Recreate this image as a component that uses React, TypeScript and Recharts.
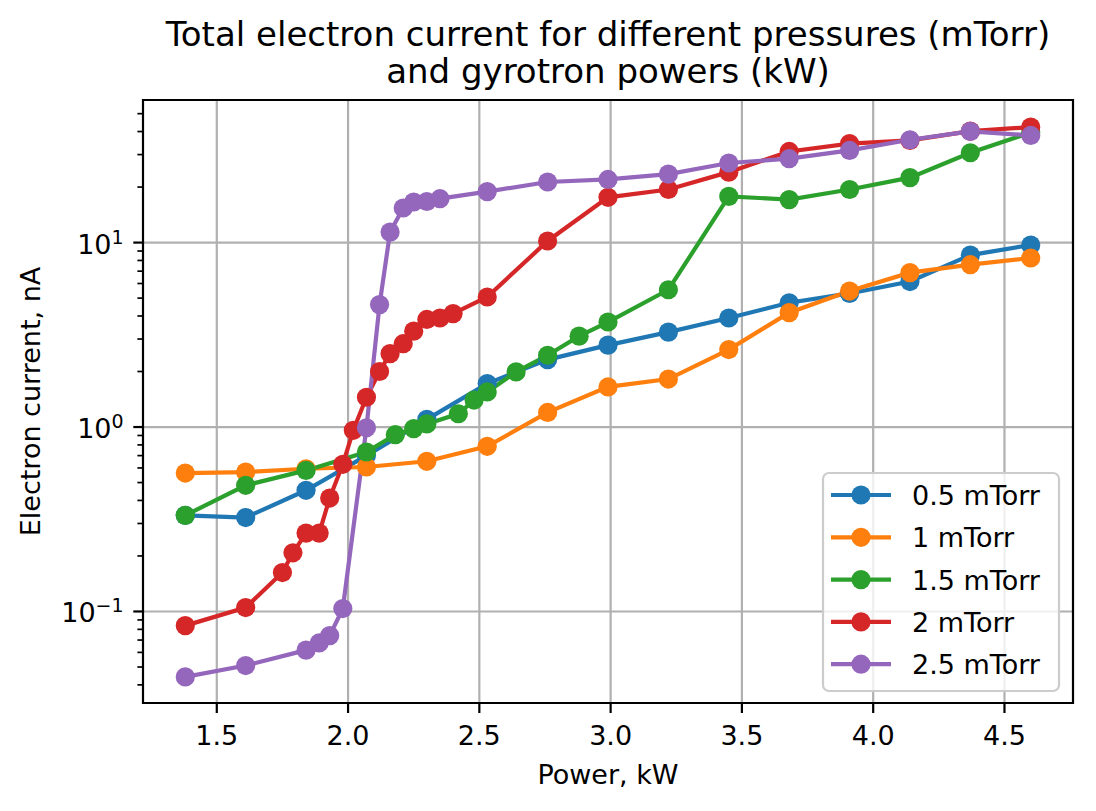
import { LineChart, Line, XAxis, YAxis, CartesianGrid, ReferenceArea, Customized } from "recharts";

// (x = power in kW, y = current in nA)
const X_MAIN = [1.38, 1.61, 1.84, 2.07, 2.3, 2.53, 2.76, 2.99, 3.22, 3.45, 3.68, 3.91, 4.14, 4.37, 4.6];

const X_05 = X_MAIN;
const Y_05 = [0.332, 0.323, 0.454, 0.7, 1.1, 1.72, 2.32, 2.78, 3.27, 3.9, 4.72, 5.3, 6.15, 8.55, 9.7];

const X_1 = X_MAIN;
const Y_1 = [0.563, 0.57, 0.594, 0.607, 0.652, 0.786, 1.2, 1.65, 1.82, 2.63, 4.17, 5.46, 6.87, 7.59, 8.25];

const X_15 = [1.38, 1.61, 1.84, 2.07, 2.18, 2.25, 2.3, 2.42, 2.48, 2.53, 2.64, 2.76, 2.88, 2.99, 3.22, 3.45, 3.68, 3.91, 4.14, 4.37, 4.6];
const Y_15 = [0.332, 0.483, 0.582, 0.732, 0.909, 0.98, 1.04, 1.18, 1.4, 1.55, 1.99, 2.45, 3.11, 3.71, 5.55, 17.8, 17.1, 19.4, 22.5, 30.7, 39.5];

const X_2 = [1.38, 1.61, 1.75, 1.79, 1.84, 1.89, 1.93, 1.98, 2.02, 2.07, 2.12, 2.16, 2.21, 2.25, 2.3, 2.35, 2.4, 2.53, 2.76, 2.99, 3.22, 3.45, 3.68, 3.91, 4.14, 4.37, 4.6];
const Y_2 = [0.0838, 0.105, 0.1625, 0.208, 0.266, 0.266, 0.412, 0.628, 0.96, 1.45, 2.0, 2.5, 2.83, 3.31, 3.83, 3.9, 4.12, 5.07, 10.2, 17.6, 19.4, 24.1, 31.2, 34.4, 35.8, 40.2, 42.3];

const X_25 = [1.38, 1.61, 1.84, 1.89, 1.93, 1.98, 2.07, 2.12, 2.16, 2.21, 2.25, 2.3, 2.35, 2.53, 2.76, 2.99, 3.22, 3.45, 3.68, 3.91, 4.14, 4.37, 4.6];
const Y_25 = [0.0442, 0.0509, 0.0617, 0.0675, 0.074, 0.1037, 0.99, 4.61, 11.4, 15.4, 16.6, 16.7, 17.3, 18.9, 21.3, 22.0, 23.5, 27.0, 28.5, 31.6, 36.1, 40.1, 38.1];

const NAMES = ["0.5 mTorr", "1 mTorr", "1.5 mTorr", "2 mTorr", "2.5 mTorr"];
const COLORS = ["#1f77b4", "#ff7f0e", "#2ca02c", "#d62728", "#9467bd"];

const X_TICKS = [1.5, 2.0, 2.5, 3.0, 3.5, 4.0, 4.5];
const Y_MAJOR = [0.1, 1, 10];
const Y_TICKS = [
  0.04, 0.05, 0.06, 0.07, 0.08, 0.09, 0.1,
  0.2, 0.3, 0.4, 0.5, 0.6, 0.7, 0.8, 0.9, 1,
  2, 3, 4, 5, 6, 7, 8, 9, 10,
  20, 30, 40, 50,
];

const X_DOMAIN = [1.219, 4.761];
const Y_DOMAIN = [0.0319, 59.3];

const FONT = "DejaVu Sans, sans-serif";
const DOT_R = 9.6;

const zip = (xs: number[], ys: number[]) => xs.map((x, i) => ({ x, y: ys[i] }));

const SERIES = [
  zip(X_05, Y_05),
  zip(X_1, Y_1),
  zip(X_15, Y_15),
  zip(X_2, Y_2),
  zip(X_25, Y_25),
];

function YTick(props: any) {
  const { x, y, payload } = props;
  const lg = Math.log10(payload.value);
  const exp = Math.round(lg);
  const major = Math.abs(lg - exp) < 1e-6;
  const len = major ? 9.7 : 5.6;
  return (
    <g>
      <line x1={x} x2={x - len} y1={y} y2={y} stroke="#000" strokeWidth={major ? 2.2 : 1.7} />
      {major && (
        <text x={x - 19.4} y={y + 11} textAnchor="end" fontSize={27} fontFamily={FONT} fill="#000">
          <tspan>10</tspan>
          <tspan dy={-10} fontSize={19}>
            {exp < 0 ? "\u2212" + -exp : String(exp)}
          </tspan>
        </text>
      )}
    </g>
  );
}

function Labels() {
  return (
    <g fontFamily={FONT} fill="#000">
      <text x={600} y={38} textAnchor="middle" fontSize={34}>
        Total electron current for different pressures (mTorr)
      </text>
      <text x={600} y={75} textAnchor="middle" fontSize={34}>
        and gyrotron powers (kW)
      </text>
      <text x={600} y={776} textAnchor="middle" fontSize={27}>
        Power, kW
      </text>
      <text x={32} y={393.5} textAnchor="middle" fontSize={27} transform="rotate(-90 32 393.5)">
        Electron current, nA
      </text>
    </g>
  );
}

function LegendBox() {
  const bx = 815;
  const by = 465;
  return (
    <g fontFamily={FONT}>
      <rect x={bx} y={by} width={236} height={218} rx={6} fill="#fff" fillOpacity={0.8} stroke="#cccccc" strokeWidth={2.2} />
      {NAMES.map((name, i) => {
        const cy = by + 22 + i * 42.3;
        return (
          <g key={name}>
            <line x1={bx + 8} x2={bx + 68} y1={cy} y2={cy} stroke={COLORS[i]} strokeWidth={4.2} />
            <circle cx={bx + 38} cy={cy} r={DOT_R} fill={COLORS[i]} />
            <text x={bx + 89} y={cy + 10} fontSize={27} fill="#000">
              {name}
            </text>
          </g>
        );
      })}
    </g>
  );
}

export default function App() {
  return (
    <LineChart width={1088} height={803} margin={{ top: 92, right: 23, bottom: 48, left: 65 }}>
      <CartesianGrid stroke="#b0b0b0" strokeWidth={2.2} verticalValues={X_TICKS} horizontalValues={Y_MAJOR} />
      <XAxis
        type="number"
        dataKey="x"
        domain={X_DOMAIN}
        ticks={X_TICKS}
        allowDataOverflow
        interval={0}
        height={60}
        axisLine={false}
        tickSize={10}
        tickMargin={13}
        tickLine={{ stroke: "#000", strokeWidth: 2.2 }}
        tickFormatter={(v: number) => v.toFixed(1)}
        tick={{ fontSize: 27, fontFamily: FONT, fill: "#000" }}
      />
      <YAxis
        type="number"
        dataKey="y"
        scale="log"
        domain={Y_DOMAIN}
        ticks={Y_TICKS}
        allowDataOverflow
        interval={0}
        width={70}
        axisLine={false}
        tickLine={false}
        tickSize={0}
        tickMargin={0}
        tick={<YTick />}
      />
      {SERIES.map((data, i) => (
        <Line
          key={NAMES[i]}
          data={data}
          dataKey="y"
          name={NAMES[i]}
          stroke={COLORS[i]}
          strokeWidth={4.2}
          dot={{ r: DOT_R, fill: COLORS[i], stroke: COLORS[i], strokeWidth: 0 }}
          activeDot={false}
          isAnimationActive={false}
        />
      ))}
      <ReferenceArea
        x1={X_DOMAIN[0]}
        x2={X_DOMAIN[1]}
        y1={Y_DOMAIN[0]}
        y2={Y_DOMAIN[1]}
        fill="none"
        stroke="#000"
        strokeWidth={2.2}
        ifOverflow="visible"
      />
      <Customized component={<Labels />} />
      <Customized component={<LegendBox />} />
    </LineChart>
  );
}
